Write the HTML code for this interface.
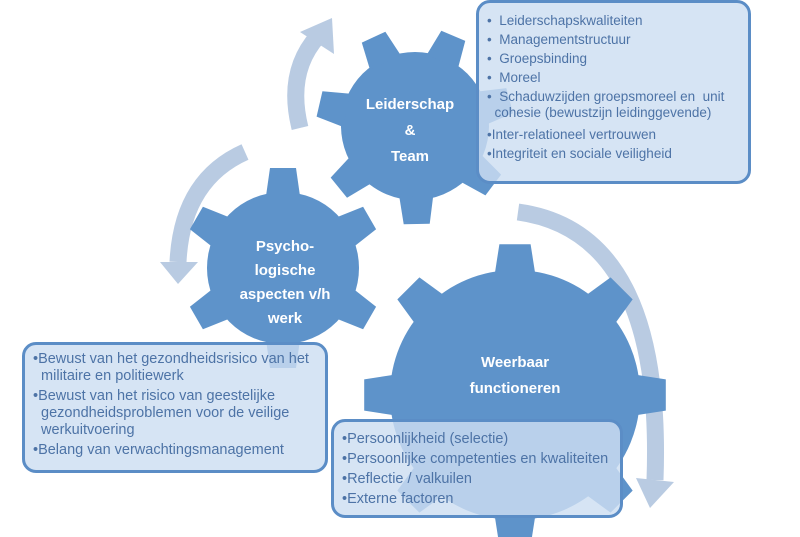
<!DOCTYPE html>
<html><head><meta charset="utf-8"><style>
body{margin:0;background:#fff;width:800px;height:537px;overflow:hidden;position:relative;font-family:"Liberation Sans",sans-serif}
.box{position:absolute;border:3px solid #5b8dc6;border-radius:14px;background:rgba(205,222,241,0.82);color:#4d73a6;font-size:13.5px;line-height:19px;box-sizing:border-box}
.box div{white-space:nowrap}
.g{position:absolute;color:#fff;font-weight:bold;text-align:center;font-size:15px}
</style></head><body>
<svg width="800" height="537" style="position:absolute;left:0;top:0">
<defs>
<g id="t"><polygon points="-17,0 17,0 13,-28 -13,-28"/></g>
</defs>
<g fill="#b9cbe2" stroke="none">
<path d="M300 128 Q286 72 318 36" fill="none" stroke="#b9cbe2" stroke-width="17"/>
<polygon points="300,32 332,18 334,54"/>
<path d="M245 152 Q182 180 178 262" fill="none" stroke="#b9cbe2" stroke-width="17"/>
<polygon points="160,262 198,262 178,284"/>
<path d="M518 212 Q664 232 655 480" fill="none" stroke="#b9cbe2" stroke-width="17"/>
<polygon points="636,478 674,482 650,508"/>
</g>
<g fill="#5e93ca">
<g transform="translate(415,126)"><circle r="74"/>
<g transform="rotate(-25)"><use href="#t" transform="translate(0,-70)"/></g>
<g transform="rotate(-77)"><use href="#t" transform="translate(0,-70)"/></g>
<g transform="rotate(-129)"><use href="#t" transform="translate(0,-70)"/></g>
<g transform="rotate(-181)"><use href="#t" transform="translate(0,-70)"/></g>
<g transform="rotate(127)"><use href="#t" transform="translate(0,-70)"/></g>
<g transform="rotate(75)"><use href="#t" transform="translate(0,-70)"/></g>
<g transform="rotate(23)"><use href="#t" transform="translate(0,-70)"/></g>
</g>
<g transform="translate(283,268)"><circle r="76"/>
<g transform="rotate(0)"><use href="#t" transform="translate(0,-72)"/></g>
<g transform="rotate(60)"><use href="#t" transform="translate(0,-72)"/></g>
<g transform="rotate(120)"><use href="#t" transform="translate(0,-72)"/></g>
<g transform="rotate(180)"><use href="#t" transform="translate(0,-72)"/></g>
<g transform="rotate(240)"><use href="#t" transform="translate(0,-72)"/></g>
<g transform="rotate(300)"><use href="#t" transform="translate(0,-72)"/></g>
</g>
<g transform="translate(515,395)"><circle r="125"/>
<g transform="rotate(0)"><use href="#t" transform="translate(0,-120) scale(1.2,1.1)"/></g>
<g transform="rotate(45)"><use href="#t" transform="translate(0,-120) scale(1.2,1.1)"/></g>
<g transform="rotate(90)"><use href="#t" transform="translate(0,-120) scale(1.2,1.1)"/></g>
<g transform="rotate(135)"><use href="#t" transform="translate(0,-120) scale(1.2,1.1)"/></g>
<g transform="rotate(180)"><use href="#t" transform="translate(0,-120) scale(1.2,1.1)"/></g>
<g transform="rotate(225)"><use href="#t" transform="translate(0,-120) scale(1.2,1.1)"/></g>
<g transform="rotate(270)"><use href="#t" transform="translate(0,-120) scale(1.2,1.1)"/></g>
<g transform="rotate(315)"><use href="#t" transform="translate(0,-120) scale(1.2,1.1)"/></g>
</g>
</g>
</svg>
<div class="g" style="left:360px;top:92px;width:100px;line-height:26px">Leiderschap<br>&amp;<br>Team</div>
<div class="g" style="left:225px;top:235px;width:120px;line-height:24px">Psycho-<br>logische<br>aspecten v/h<br>werk</div>
<div class="g" style="left:455px;top:350px;width:120px;line-height:26px">Weerbaar<br>functioneren</div>
<div class="box" style="left:476px;top:0;width:275px;height:184px;padding:8px 0 0 8px">
<div>•&nbsp; Leiderschapskwaliteiten</div>
<div>•&nbsp; Managementstructuur</div>
<div>•&nbsp; Groepsbinding</div>
<div>•&nbsp; Moreel</div>
<div style="line-height:16px;margin-top:2px">•&nbsp; Schaduwzijden groepsmoreel en &nbsp;unit<br>&nbsp;&nbsp;cohesie (bewustzijn leidinggevende)</div>
<div style="margin-top:4px">•Inter-relationeel vertrouwen</div>
<div>•Integriteit en sociale veiligheid</div>
</div>
<div class="box" style="left:22px;top:342px;width:306px;height:131px;padding:6px 0 0 8px;line-height:17px;font-size:14.5px">
<div>•Bewust van het gezondheidsrisico van het<br>&nbsp;&nbsp;militaire en politiewerk</div>
<div style="margin-top:3px">•Bewust van het risico van geestelijke<br>&nbsp;&nbsp;gezondheidsproblemen voor de veilige<br>&nbsp;&nbsp;werkuitvoering</div>
<div style="margin-top:3px">•Belang van verwachtingsmanagement</div>
</div>
<div class="box" style="left:331px;top:419px;width:292px;height:99px;padding:7px 0 0 8px;line-height:20px;font-size:14.5px">
<div>•Persoonlijkheid (selectie)</div>
<div>•Persoonlijke competenties en kwaliteiten</div>
<div>•Reflectie / valkuilen</div>
<div>•Externe factoren</div>
</div>
</body></html>
